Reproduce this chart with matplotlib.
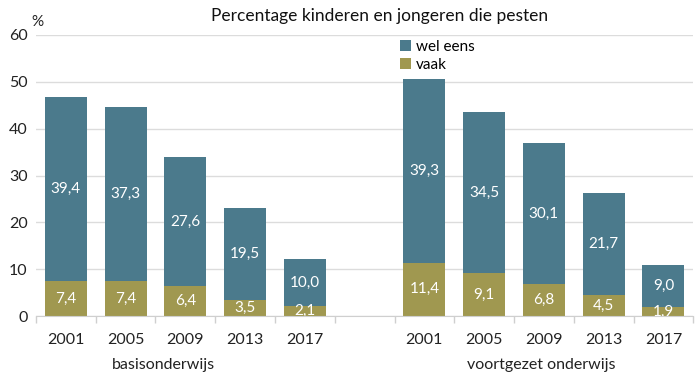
import matplotlib
matplotlib.use("Agg")
import matplotlib.pyplot as plt
import numpy as np

plt.rcParams['font.family'] = ['Lato', 'DejaVu Sans']

years = ["2001", "2005", "2009", "2013", "2017"]
groups = ["basisonderwijs", "voortgezet onderwijs"]
basis_wel = [39.4, 37.3, 27.6, 19.5, 10.0]
basis_vaak = [7.4, 7.4, 6.4, 3.5, 2.1]
vo_wel = [39.3, 34.5, 30.1, 21.7, 9.0]
vo_vaak = [11.4, 9.1, 6.8, 4.5, 1.9]

c_wel = "#4b7a8c"
c_vaak = "#a09850"

fig = plt.figure(figsize=(7, 3.79), dpi=100)
ax = fig.add_axes([0.0514, 0.166, 0.939, 0.7417])

xb = np.arange(5)
xv = np.arange(5) + 6
x = np.concatenate([xb, xv])
wel = basis_wel + vo_wel
vaak = basis_vaak + vo_vaak

w = 0.7
ax.bar(x, vaak, width=w, color=c_vaak, label="vaak", zorder=3)
ax.bar(x, wel, width=w, bottom=vaak, color=c_wel, label="wel eens", zorder=3)

def fmt(v):
    return f"{v:.1f}".replace(".", ",")

for xi, v, wl in zip(x, vaak, wel):
    ax.text(xi, v / 2, fmt(v), ha="center", va="center", color="white",
            fontsize=11, zorder=4, clip_on=True)
    ax.text(xi, v + wl / 2, fmt(wl), ha="center", va="center", color="white",
            fontsize=11, zorder=4, clip_on=True)

ax.set_xlim(-0.5, 10.5)
ax.set_ylim(0, 60)
ax.set_yticks(np.arange(0, 61, 10))
ax.tick_params(axis="y", length=0, pad=6, labelsize=11.5, colors="#222222")
ax.yaxis.grid(True, color="#dcdcdc", linewidth=1, zorder=0)

ax.set_xticks(x)
ax.set_xticklabels(years + years)
ax.set_xticks(np.arange(-0.5, 11, 1), minor=True)
ax.tick_params(axis="x", which="major", length=0, pad=12, labelsize=11.5, colors="#222222")
ax.tick_params(axis="x", which="minor", length=5, color="#cfcfcf", width=1)

for s in ["top", "right", "left"]:
    ax.spines[s].set_visible(False)
ax.spines["bottom"].set_color("#cfcfcf")
ax.spines["bottom"].set_zorder(5)

ax.text(1.64, -0.175, groups[0], transform=ax.get_xaxis_transform(),
        ha="center", va="center", fontsize=11.5, color="#222222")
ax.text(7.95, -0.175, groups[1], transform=ax.get_xaxis_transform(),
        ha="center", va="center", fontsize=11.5, color="#222222")

fig.text(37 / 700, 1 - 22 / 379, "%", ha="center", va="center", fontsize=11, color="#222222")
fig.text(380 / 700, 1 - 16 / 379, "Percentage kinderen en jongeren die pesten",
         ha="center", va="center", fontsize=12.5, color="#111111")

h, l = ax.get_legend_handles_labels()
leg = ax.legend(h[::-1], l[::-1], loc="upper left", bbox_to_anchor=(0.545, 1.005),
                frameon=False, fontsize=11, handlelength=0.7, handleheight=0.7,
                handletextpad=0.3, labelspacing=0.25, borderaxespad=0)

fig.savefig("out.png", dpi=100)
